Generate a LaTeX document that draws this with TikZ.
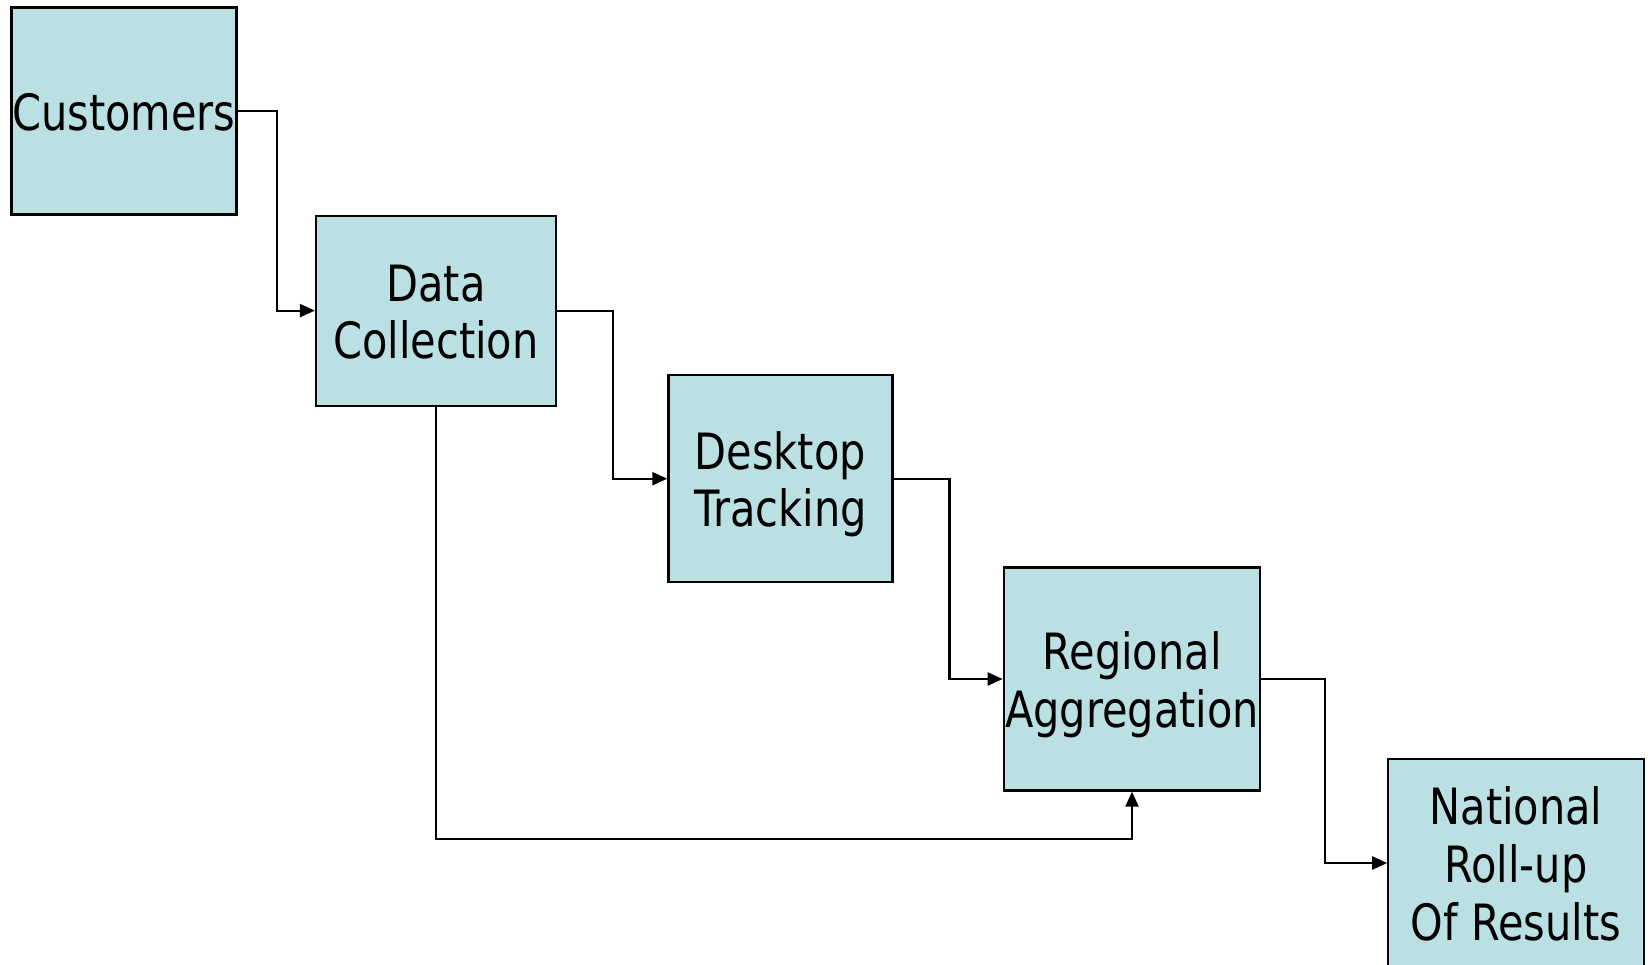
\documentclass[tikz,border=0pt]{standalone}
\usepackage{fontspec}
\setmainfont{DejaVu Sans}[FakeStretch=0.83]
\usetikzlibrary{arrows.meta}
\definecolor{boxfill}{RGB}{187,224,227}
\newcommand\boxtext[1]{\raisebox{-3.9pt}[\height][\depth]{\begin{tabular}{@{}c@{}}#1\end{tabular}}}
\tikzset{
  procbox/.style={draw=black, line width=1.1pt, fill=boxfill, inner sep=0pt,
    align=center, font=\fontsize{25pt}{28.9pt}\selectfont},
  conn/.style={draw=black, line width=1.1pt, -{Triangle[length=7.5pt,width=6.5pt]}}
}
\begin{document}
\begin{tikzpicture}[x=0.5pt,y=-0.5pt]
\useasboundingbox (0,0) rectangle (1648,964);
\clip (0,0) rectangle (1648,964);
\fill[white] (0,0) rectangle (1648,964);
\node[procbox, minimum width=112.5pt, minimum height=103.5pt] (cust) at (124,111) {\boxtext{Customers}};
\node[procbox, minimum width=120pt, minimum height=95pt] (data) at (436,310.6) {\boxtext{Data\\Collection}};
\node[procbox, minimum width=112pt, minimum height=103.5pt] (desk) at (780.4,478.7) {\boxtext{Desktop\\Tracking}};
\node[procbox, minimum width=128.2pt, minimum height=111.5pt] (reg) at (1132,679) {\boxtext{Regional\\Aggregation}};
\node[procbox, minimum width=127.7pt, minimum height=104pt] (nat) at (1516,863) {\boxtext{National\\Roll-up\\Of Results}};
\coordinate (low) at (0,838.7);
\draw[conn] (cust.east) -- ++(39,0) |- (data.west);
\draw[conn] (data.east) -- ++(56,0) |- (desk.west);
\draw[conn] (desk.east) -- ++(56,0) |- (reg.west);
\draw[conn] (reg.east) -- ++(64,0) |- (nat.west);
\draw[conn] (data.south) |- (low -| reg.south) -- (reg.south);
\end{tikzpicture}
\end{document}
